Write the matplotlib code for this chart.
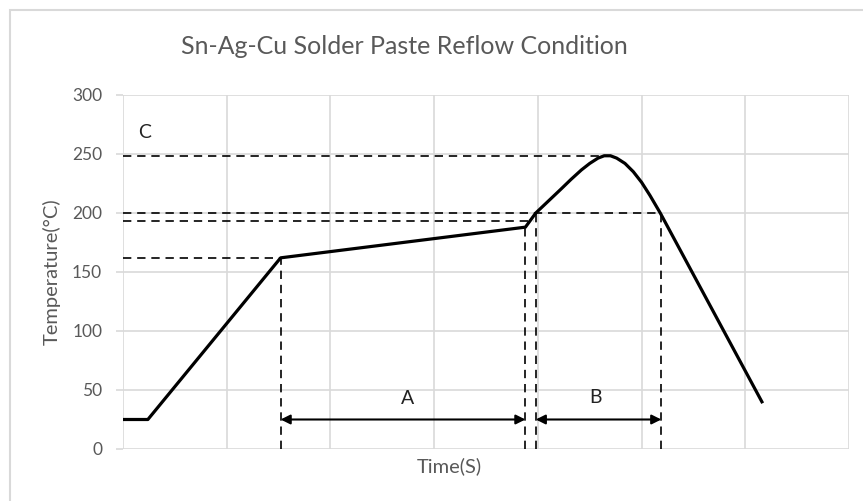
import matplotlib
matplotlib.use("Agg")
import matplotlib.pyplot as plt
from matplotlib.patches import Rectangle

plt.rcParams['font.family'] = ['Lato', 'DejaVu Sans']

# profile (time in s, temperature in degC)
time = [0, 12, 76, 194, 199, 205, 211, 216, 221, 225, 229, 232, 235, 238, 242, 246, 250, 254, 259, 308]
temp = [25, 25, 162, 188, 200, 210, 220, 228.5, 236.5, 242, 246.5, 248.5, 248.5, 246.5, 242, 235, 226, 215, 200, 40]

# reference levels (dashed horizontals): level, end time
h_levels = [248, 200, 193, 162]
h_ends = [232, 259, 198, 76]
# dashed verticals: time, top temperature
v_times = [76, 194, 199, 259.5]
v_tops = [162, 188, 200, 200]

# interval arrows
arrow_y = 25
spans = {"A": (76, 194), "B": (199, 259.5)}
span_label_pos = {"A": (137, 43), "B": (228, 44), "C": (10.6, 268)}

yticks = [0, 50, 100, 150, 200, 250, 300]
xgrid = [0, 50, 100, 150, 200, 250, 300, 350]

grey = '#595959'
grid = '#d9d9d9'

fig = plt.figure(figsize=(8.63, 5.01), dpi=100)
ax = fig.add_axes([0.1425, 0.1038, 0.8413, 0.7066])

for x in xgrid:
    ax.axvline(x, color=grid, lw=1.2, zorder=0)
for y in yticks:
    ax.axhline(y, color=grid, lw=1.2, zorder=0)

for lvl, end in zip(h_levels, h_ends):
    ax.plot([0, end], [lvl, lvl], color='black', lw=1.2, ls=(0, (5, 3.5)), zorder=2)
for t, top in zip(v_times, v_tops):
    ax.plot([t, t], [0, top], color='black', lw=1.2, ls=(0, (5, 3.5)), zorder=2)

ax.plot(time, temp, color='black', lw=2.3, solid_joinstyle='round', zorder=3)

for name, (a, b) in spans.items():
    ax.annotate('', xy=(a, arrow_y), xytext=(b, arrow_y),
                arrowprops=dict(arrowstyle='<|-|>', color='black', lw=1.5,
                                mutation_scale=14, shrinkA=0, shrinkB=0))
for name, (x, y) in span_label_pos.items():
    ax.text(x, y, name, fontsize=14, ha='center', va='center', color='#222222')

ax.set_xlim(0, 350)
ax.set_ylim(0, 300)
ax.set_xticks([])
ax.set_yticks(yticks)
ax.tick_params(axis='y', length=5, width=1.2, color=grid, labelcolor=grey,
               labelsize=12.5, pad=10)
for s in ax.spines.values():
    s.set_visible(False)

ax.set_xlabel('Time(S)', color=grey, fontsize=14.5, va='top')
ax.xaxis.set_label_coords(0.45, -0.022)
ax.set_ylabel('Temperature(°C)', color=grey, fontsize=14.5)
ax.yaxis.set_label_coords(-0.0854, 0.5)

fig.text(0.469, 0.908, 'Sn-Ag-Cu Solder Paste Reflow Condition', ha='center',
         va='center', fontsize=18, color=grey)

fig.patches.append(Rectangle((10 / 863, -0.1), 1.2, 1 - 10 / 501 + 0.1,
                             transform=fig.transFigure, fill=False,
                             edgecolor=grid, lw=1.5))

fig.savefig('out.png', dpi=100)
